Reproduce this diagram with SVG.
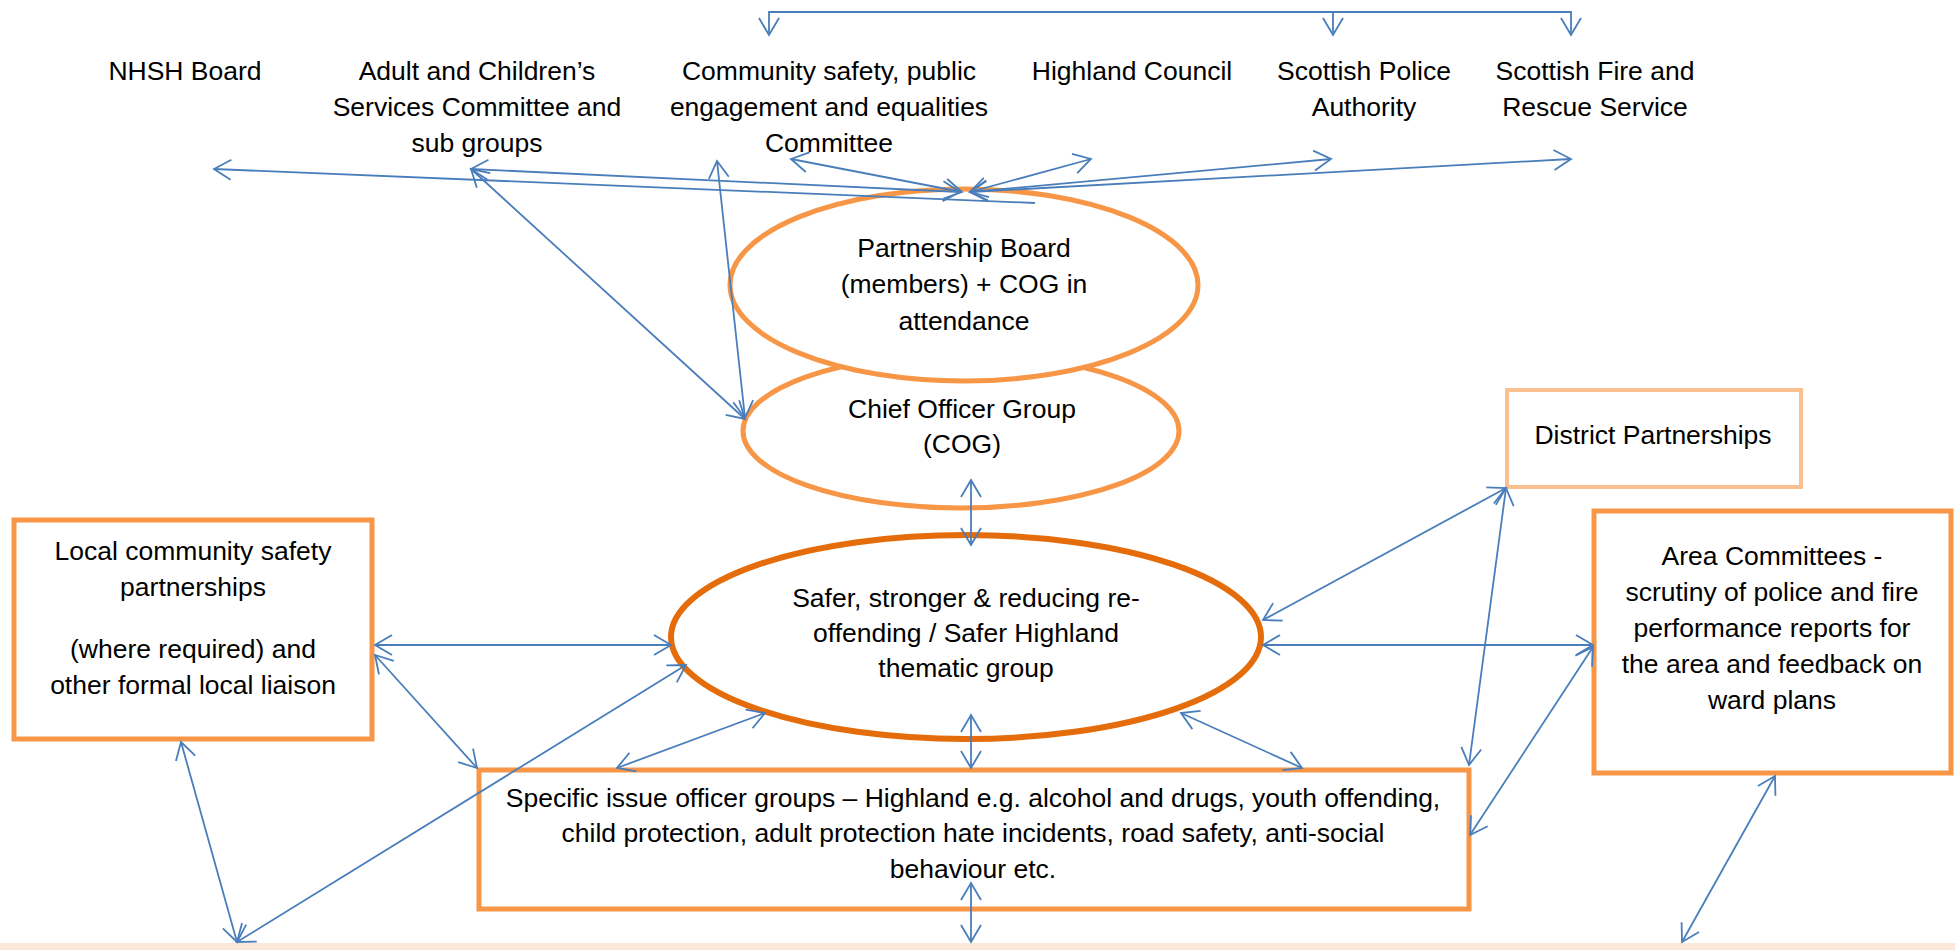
<svg xmlns="http://www.w3.org/2000/svg" width="1955" height="950" viewBox="0 0 1955 950">
<style>
text{font-family:"Liberation Sans",Arial,sans-serif;font-size:26.5px;fill:#000;text-anchor:middle}
.c{stroke:#4A7EBB;stroke-width:1.8;fill:none;marker-start:url(#ah);marker-end:url(#ah)}
.e{stroke:#4A7EBB;stroke-width:1.8;fill:none;marker-end:url(#ah)}
.s{stroke:#4A7EBB;stroke-width:1.8;fill:none;marker-start:url(#ah)}
.o{fill:#fff;stroke:#F79646;stroke-width:5}
</style>
<defs>
<marker id="ah" markerUnits="userSpaceOnUse" markerWidth="22" markerHeight="24" viewBox="-19 -12 22 24" refX="0" refY="0" orient="auto-start-reverse">
<path d="M-17,-10 L0,0 L-17,10" fill="none" stroke="#4A7EBB" stroke-width="1.8"/>
</marker>
</defs>
<rect x="0" y="0" width="1955" height="950" fill="#fff"/>
<rect x="0" y="943" width="1955" height="7" fill="#FCE8DA"/>

<g id="nhsh"><text x="185" y="80">NHSH Board</text></g>
<g id="adult"><text x="477" y="80">Adult and Children’s</text><text x="477" y="116">Services Committee and</text><text x="477" y="152">sub groups</text></g>
<g id="community"><text x="829" y="80">Community safety, public</text><text x="829" y="116">engagement and equalities</text><text x="829" y="152">Committee</text></g>
<g id="highland"><text x="1132" y="80">Highland Council</text></g>
<g id="police"><text x="1364" y="80">Scottish Police</text><text x="1364" y="116">Authority</text></g>
<g id="fire"><text x="1595" y="80">Scottish Fire and</text><text x="1595" y="116">Rescue Service</text></g>

<g id="cog"><ellipse class="o" cx="961" cy="431" rx="218" ry="77"/><text x="962" y="418">Chief Officer Group</text><text x="962" y="453">(COG)</text></g>
<g id="partnership"><ellipse class="o" cx="964" cy="285" rx="234" ry="96"/><text x="964" y="257">Partnership Board</text><text x="964" y="293">(members) + COG in</text><text x="964" y="330">attendance</text></g>
<g id="safer"><ellipse cx="966" cy="637" rx="295" ry="102" fill="#fff" stroke="#E46C0A" stroke-width="6"/><text x="966" y="607">Safer, stronger &amp; reducing re-</text><text x="966" y="642">offending / Safer Highland</text><text x="966" y="677">thematic group</text></g>
<g id="local"><rect class="o" x="14" y="520" width="358" height="219"/><text x="193" y="560">Local community safety</text><text x="193" y="596">partnerships</text><text x="193" y="658">(where required) and</text><text x="193" y="694">other formal local liaison</text></g>
<g id="specific"><rect class="o" x="479" y="770" width="990" height="139"/><text x="973" y="807">Specific issue officer groups – Highland e.g. alcohol and drugs, youth offending,</text><text x="973" y="842">child protection, adult protection hate incidents, road safety, anti-social</text><text x="973" y="878">behaviour etc.</text></g>
<g id="district"><rect x="1507" y="390" width="294" height="97" fill="#fff" stroke="#FAC090" stroke-width="4"/><text x="1653" y="444">District Partnerships</text></g>
<g id="area"><rect class="o" x="1594" y="511" width="357" height="262"/><text x="1772" y="565">Area Committees -</text><text x="1772" y="601">scrutiny of police and fire</text><text x="1772" y="637">performance reports for</text><text x="1772" y="673">the area and feedback on</text><text x="1772" y="709">ward plans</text></g>

<g id="connectors">
<path class="c" d="M769,35 V12 H1571 V35"/>
<path class="e" d="M1333,12 V35"/>
<path class="s" d="M214,169 L1035,203"/>
<path class="c" d="M471,169 L960,192"/>
<path class="c" d="M471,169 L745,419"/>
<path class="c" d="M717,161 L745,418"/>
<path class="c" d="M791,159 L962,192"/>
<path class="c" d="M970,192 L1091,159"/>
<path class="c" d="M970,192 L1331,159"/>
<path class="c" d="M970,192 L1571,159"/>
<path class="c" d="M971,480 V545"/>
<path class="c" d="M971,715 V768"/>
<path class="c" d="M971,883 V942"/>
<path class="c" d="M375,645 H671"/>
<path class="c" d="M375,655 L477,768"/>
<path class="c" d="M765,713 L617,768"/>
<path class="c" d="M686,665 L237,942"/>
<path class="c" d="M181,742 L237,942"/>
<path class="c" d="M1181,713 L1302,768"/>
<path class="c" d="M1263,620 L1506,488"/>
<path class="c" d="M1506,488 L1469,765"/>
<path class="c" d="M1263,645 H1593"/>
<path class="c" d="M1593,647 L1470,835"/>
<path class="c" d="M1775,776 L1682,942"/>
</g>
</svg>
